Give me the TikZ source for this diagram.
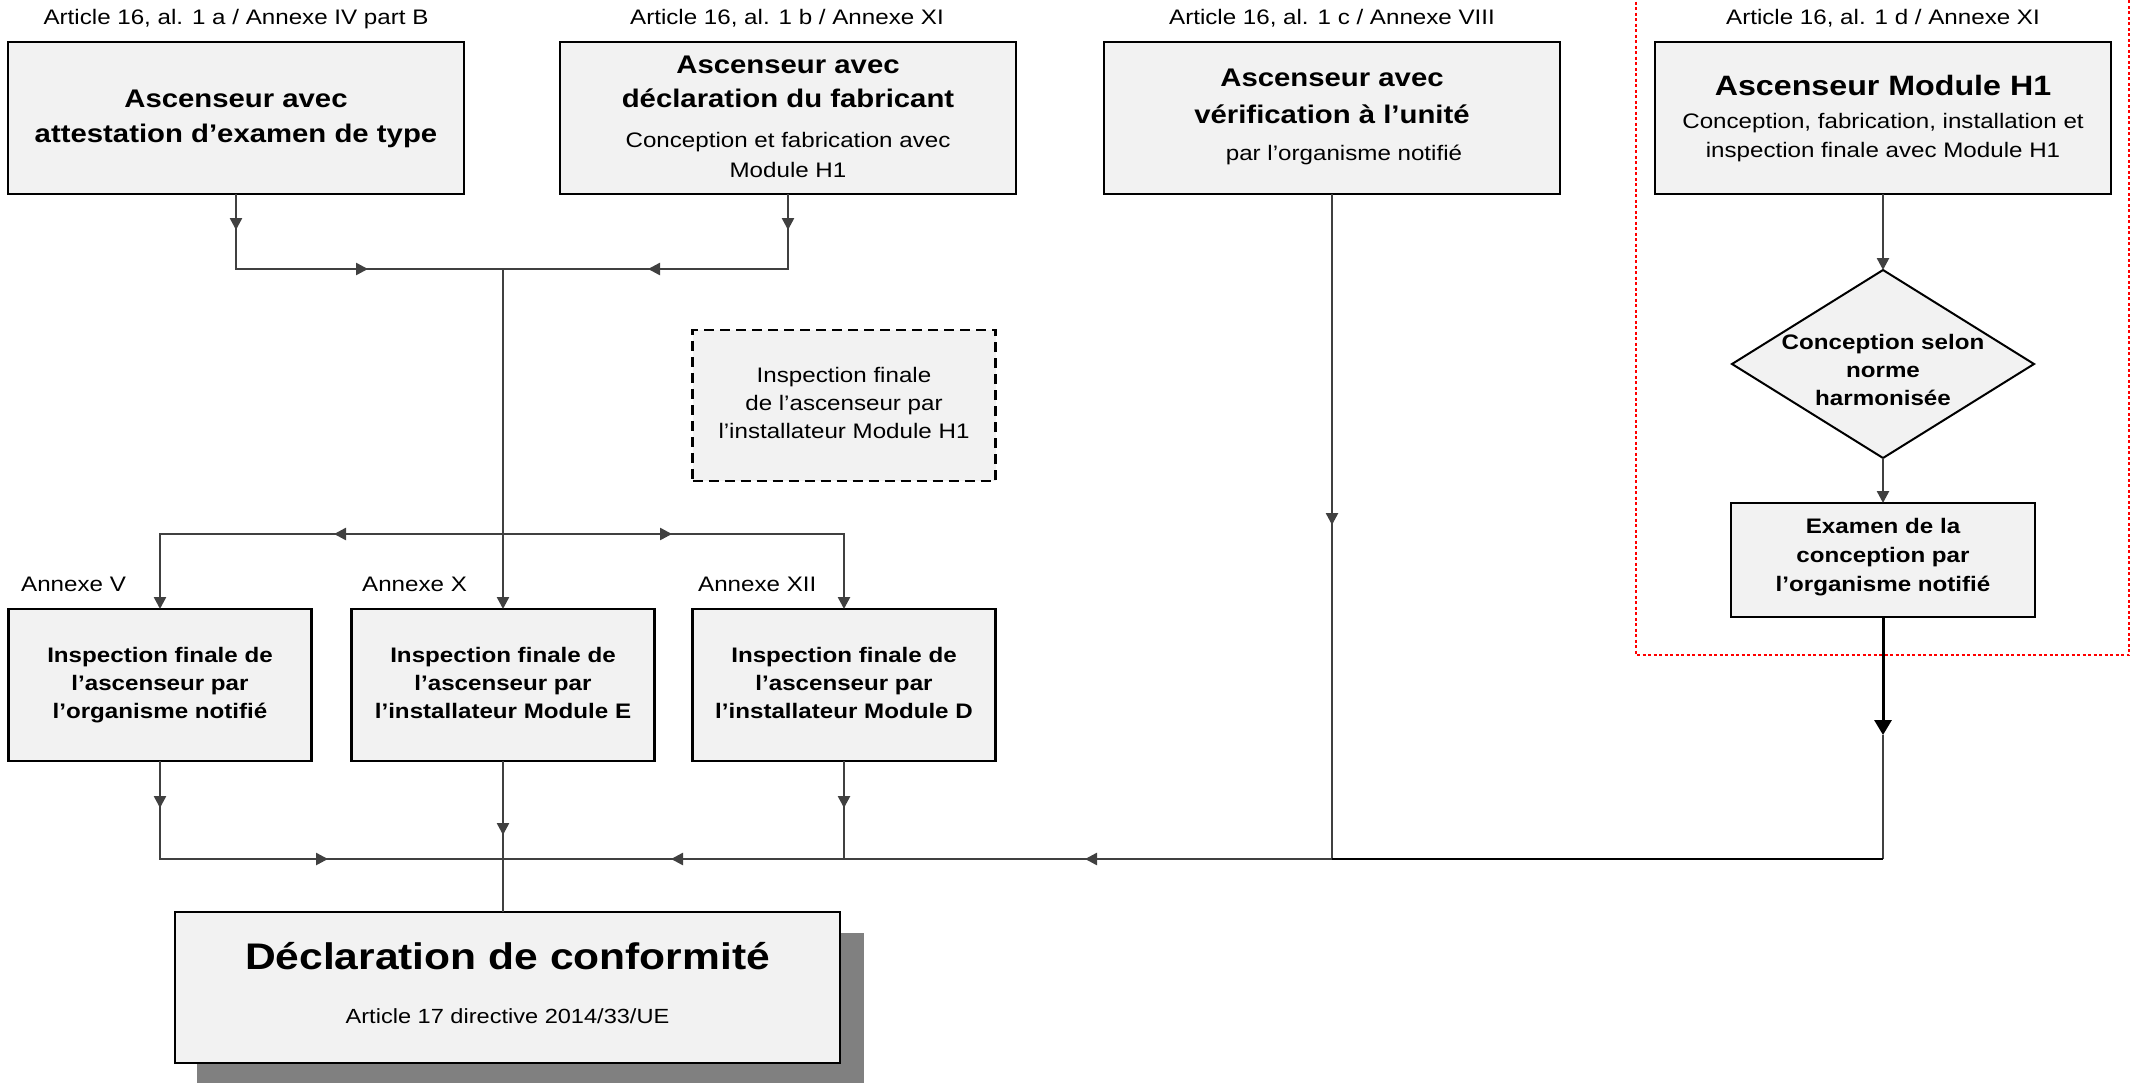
\documentclass[tikz,border=0pt]{standalone}
\usepackage{fontspec}
\setmainfont{Liberation Sans}[FakeStretch=1.15]
\usetikzlibrary{arrows.meta,decorations.markings,shapes.geometric}
\definecolor{boxfill}{HTML}{F2F2F2}
\definecolor{conncol}{HTML}{404040}
\definecolor{shadowcol}{HTML}{808080}
\begin{document}
\begin{tikzpicture}[x=1pt,y=-1pt,
  box/.style={draw=black, line width=2.5pt, fill=boxfill, inner sep=0pt, outer sep=0pt},
  reg/.style={inner sep=0pt, text height=15pt, text depth=4.4pt, anchor=center, font=\fontsize{21}{25}\selectfont},
  regs/.style={inner sep=0pt, text height=14.7pt, text depth=4.3pt, anchor=center, font=\fontsize{20.5}{25}\selectfont},
  bld/.style={inner sep=0pt, text height=15pt, text depth=4.4pt, anchor=center, font=\fontsize{21}{25}\selectfont\bfseries},
  big/.style={inner sep=0pt, text height=18.4pt, text depth=5.3pt, anchor=center, font=\fontsize{25.5}{30}\selectfont\bfseries},
  bigger/.style={inner sep=0pt, text height=20.2pt, text depth=5.9pt, anchor=center, font=\fontsize{28}{32}\selectfont\bfseries},
  huge/.style={inner sep=0pt, text height=26.6pt, text depth=7.8pt, anchor=center, font=\fontsize{37}{42}\selectfont\bfseries},
  conn/.style={color=conncol, line width=2.5pt},
  arrowat/.style={postaction={decorate, decoration={markings, mark=at position #1 with {\arrow{Triangle[length=12pt,width=12pt]}}}}},
  endtip/.style={-{Triangle[length=12pt,width=12pt]}},
  reddot/.style={draw=red, line width=2pt, dash pattern=on 3pt off 2.5pt},
  dashbox/.style={box, dash pattern=on 10pt off 6pt},
]
\useasboundingbox (0,0) rectangle (2131,1082);

% red dotted frame
\draw[reddot] (1636,-4) rectangle (2129,655);

% top labels
\node[reg] (lA) at (236,19) {Article 16, al. 1 a / Annexe IV part B};
\node[reg] (lB) at (787,19) {Article 16, al. 1 b / Annexe XI};
\node[reg] (lC) at (1332,19) {Article 16, al. 1 c / Annexe VIII};
\node[reg] (lD) at (1883,19) {Article 16, al. 1 d / Annexe XI};

% top boxes
\node[box, minimum width=456pt, minimum height=152pt] (A) at (236,118) {};
\node[box, minimum width=456pt, minimum height=152pt] (B) at (788,118) {};
\node[box, minimum width=456pt, minimum height=152pt] (C) at (1332,118) {};
\node[box, minimum width=456pt, minimum height=152pt] (D) at (1883,118) {};

\node[big] (tA1) at (236,101) {Ascenseur avec};
\node[big] (tA2) at (236,136) {attestation d’examen de type};

\node[big] (tB1) at (788,67) {Ascenseur avec};
\node[big] (tB2) at (788,101) {déclaration du fabricant};
\node[reg] (tB3) at (788,142) {Conception et fabrication avec};
\node[reg] (tB4) at (788,172) {Module H1};

\node[big] (tC1) at (1332,80) {Ascenseur avec};
\node[big] (tC2) at (1332,117) {vérification à l’unité};
\node[reg] (tC3) at (1344,155) {par l’organisme notifié};

\node[bigger] (tD1) at (1883,88) {Ascenseur Module H1};
\node[reg] (tD2) at (1883,123) {Conception, fabrication, installation et};
\node[reg] (tD3) at (1883,152) {inspection finale avec Module H1};

% dashed box
\node[dashbox, minimum width=303pt, minimum height=151pt] (Dsh) at (844,405.5) {};
\node[reg] (tS1) at (844,377) {Inspection finale};
\node[reg] (tS2) at (844,405) {de l’ascenseur par};
\node[reg] (tS3) at (844,433) {l’installateur Module H1};

% annex labels
\node[reg, anchor=west] (aV) at (21,586) {Annexe V};
\node[reg, anchor=west] (aX) at (362,586) {Annexe X};
\node[reg, anchor=west] (aXII) at (698,586) {Annexe XII};

% bottom row boxes
\node[box, minimum width=303pt, minimum height=152pt] (V) at (160,685) {};
\node[box, minimum width=303pt, minimum height=152pt] (X) at (503,685) {};
\node[box, minimum width=303pt, minimum height=152pt] (XII) at (844,685) {};

\node[bld] (tV1) at (160,657) {Inspection finale de};
\node[bld] (tV2) at (160,685) {l’ascenseur par};
\node[bld] (tV3) at (160,713) {l’organisme notifié};
\node[bld] (tX1) at (503,657) {Inspection finale de};
\node[bld] (tX2) at (503,685) {l’ascenseur par};
\node[bld] (tX3) at (503,713) {l’installateur Module E};
\node[bld] (tXII1) at (844,657) {Inspection finale de};
\node[bld] (tXII2) at (844,685) {l’ascenseur par};
\node[bld] (tXII3) at (844,713) {l’installateur Module D};

% right column
\node[draw=black, line width=2pt, fill=boxfill, diamond, aspect=1.606, minimum width=302pt, minimum height=188pt, inner sep=0pt, outer sep=0pt] (dia) at (1883,364) {};
\node[bld] (tG1) at (1883,344) {Conception selon};
\node[bld] (tG2) at (1883,372) {norme};
\node[bld] (tG3) at (1883,400) {harmonisée};

\node[box, minimum width=304pt, minimum height=114pt] (Ex) at (1883,560) {};
\node[bld] (tE1) at (1883,528) {Examen de la};
\node[bld] (tE2) at (1883,557) {conception par};
\node[bld] (tE3) at (1883,586) {l’organisme notifié};

% declaration box with shadow
\fill[shadowcol] (197,933) rectangle (864,1092);
\node[box, minimum width=665pt, minimum height=151pt] (H) at (507.5,987.5) {};
\node[huge] (tH1) at (507.5,960) {Déclaration de conformité};
\node[regs] (tH2) at (507.5,1018) {Article 17 directive 2014/33/UE};

% junctions
\coordinate (jTop) at (503,269);
\coordinate (jMid) at (503,534);
\coordinate (jBot) at (503,859);
\coordinate (jC) at (1332,859);
\coordinate (kArr) at (1883,735);

% connectors
\draw[conn, arrowat=36pt, arrowat=207pt] (A.south) |- (jTop);
\draw[conn, arrowat=36pt, arrowat=215pt] (B.south) |- (jTop);
\draw[conn, endtip] (jTop) -- (X.north);
\draw[conn, endtip, arrowat=169pt] (jMid) -| (V.north);
\draw[conn, endtip, arrowat=169pt] (jMid) -| (XII.north);
\draw[conn, arrowat=47pt, arrowat=266pt] (V.south) |- (jBot);
\draw[conn, arrowat=74pt] (X.south) -- (jBot);
\draw[conn] (jBot) -- (H.north -| jBot);
\draw[conn, arrowat=47pt, arrowat=271pt] (XII.south) |- (jBot);
\draw[conn, arrowat=331pt, arrowat=912pt] (C.south) |- (jBot);
\draw[conn, endtip] (D.south) -- (dia.north);
\draw[conn, endtip] (dia.south) -- (Ex.north);
\draw[color=black, line width=3pt, -{Triangle[length=15pt,width=17pt]}] (Ex.south) -- (kArr);
\draw[conn] (kArr) -- (kArr |- jC);
\draw[color=black, line width=2.8pt] (kArr |- jC) -- (jC);
\end{tikzpicture}
\end{document}
